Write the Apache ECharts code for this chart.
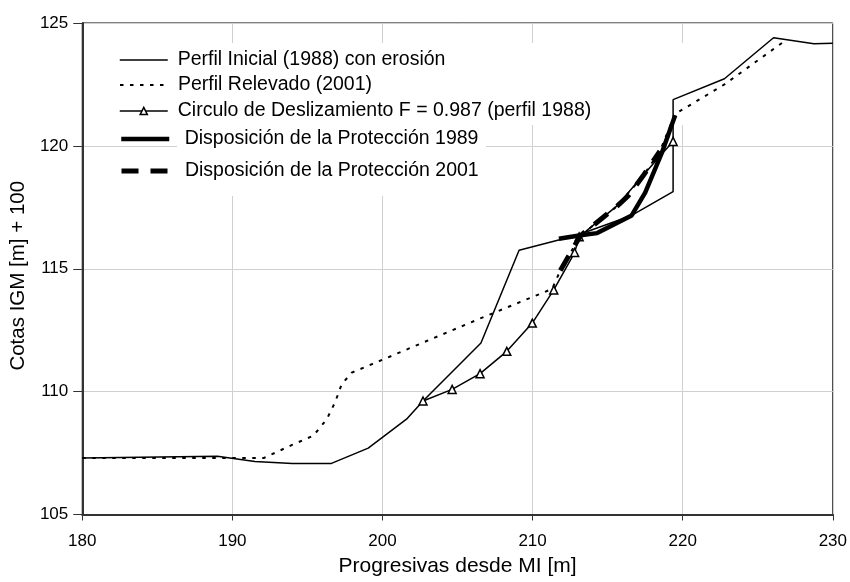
<!DOCTYPE html>
<html>
<head>
<meta charset="utf-8">
<script src="https://cdn.jsdelivr.net/npm/echarts@6/dist/echarts.min.js"></script>
<style>
html,body{margin:0;padding:0;background:#fff;}
#chart{width:850px;height:582px;}
</style>
</head>
<body>
<div id="chart"></div>
<script>
// ---- data ----
const xTicks = [180, 190, 200, 210, 220, 230];
const yTicks = [105, 110, 115, 120, 125];

const seriesNames = [
  'Perfil Inicial (1988) con erosión',
  'Perfil Relevado (2001)',
  'Circulo de Deslizamiento F = 0.987 (perfil 1988)',
  ' Disposición de la Protección 1989',
  ' Disposición de la Protección 2001'
];

const perfil1988X = [180, 189.0, 191.5, 194.0, 196.6, 199.05, 201.6, 202.7, 206.56, 209.1, 212.96, 216.6, 219.36, 219.36, 222.78, 226.05, 228.74, 230];
const perfil1988Y = [107.3, 107.37, 107.16, 107.08, 107.08, 107.7, 108.88, 109.62, 111.98, 115.75, 116.36, 117.17, 118.14, 121.88, 122.73, 124.4, 124.16, 124.18];

const perfil2001X = [180, 192.1, 193.97, 195.4, 196.29, 196.84, 197.28, 197.95, 206.56, 211.3, 211.85, 213.18, 215.63, 217.35, 218.48, 219.5, 222.78, 226.64];
const perfil2001Y = [107.3, 107.3, 107.83, 108.21, 108.88, 109.56, 110.3, 110.77, 112.99, 114.18, 114.93, 116.34, 117.55, 118.77, 119.78, 121.3, 122.5, 124.2];

const circuloX = [202.7, 204.64, 206.5, 208.28, 209.98, 211.41, 212.8, 213.1, 215.6, 217.3, 218.5, 219.36];
const circuloY = [109.62, 110.09, 110.73, 111.64, 112.79, 114.14, 115.66, 116.3, 117.55, 118.75, 119.6, 120.18];
const circuloMarker = [1, 1, 1, 1, 1, 1, 1, 1, 0, 0, 0, 1];

const prot1989X = [211.75, 213.2, 214.3, 216.6, 217.5, 218.6, 219.5];
const prot1989Y = [116.22, 116.36, 116.45, 117.17, 118.1, 119.7, 121.25];

const prot2001X = [211.85, 213.18, 215.63, 216.36, 217.35, 218.48];
const prot2001Y = [114.93, 116.34, 117.55, 117.96, 118.77, 119.78];

const legendCenters = [60, 85, 111, 139, 171];

// ---- helpers ----
const FONT = "'Liberation Sans', Arial, sans-serif";
const zip = (xs, ys) => xs.map((x, i) => [x, ys[i]]);

const lineStyles = [
  {color: '#000', width: 1.5, type: 'solid'},
  {color: '#000', width: 2, type: [3.5, 6.5]},
  {color: '#000', width: 1.5, type: 'solid'},
  {color: '#000', width: 4.5, type: 'solid'},
  {color: '#000', width: 5, type: [17, 12]}
];
const hasMarker = [false, false, true, false, false];

const chart = echarts.init(document.getElementById('chart'), null, {renderer: 'canvas'});

const option = {
  animation: false,
  backgroundColor: '#fff',
  textStyle: {fontFamily: FONT, color: '#000'},
  grid: {left: 79, right: 16, top: 23, bottom: 64, show: true, borderColor: '#000', borderWidth: 1, backgroundColor: 'transparent'},
  xAxis: {
    type: 'value', min: xTicks[0], max: xTicks[xTicks.length - 1], interval: 10,
    name: 'Progresivas desde MI [m]', nameLocation: 'middle', nameGap: 52,
    nameTextStyle: {fontSize: 21, fontFamily: FONT, color: '#000', verticalAlign: 'middle'},
    axisLine: {show: true, lineStyle: {color: '#333', width: 2}},
    axisTick: {show: true, length: 6, lineStyle: {color: '#333', width: 1}},
    axisLabel: {fontSize: 17, fontFamily: FONT, color: '#000', margin: 18},
    splitLine: {show: true, lineStyle: {color: '#d0d0d0', width: 1}}
  },
  yAxis: {
    type: 'value', min: yTicks[0], max: yTicks[yTicks.length - 1], interval: 5,
    name: 'Cotas IGM [m] + 100', nameLocation: 'middle', nameGap: 61,
    nameTextStyle: {fontSize: 20.5, fontFamily: FONT, color: '#000', verticalAlign: 'middle', padding: [0, 14, 0, 0]},
    axisLine: {show: true, lineStyle: {color: '#333', width: 2}},
    axisTick: {show: true, length: 9, lineStyle: {color: '#333', width: 1}},
    axisLabel: {fontSize: 17, fontFamily: FONT, color: '#000', margin: 14},
    splitLine: {show: true, lineStyle: {color: '#d0d0d0', width: 1}}
  },
  graphic: [
    {type: 'rect', z: 1, silent: true, shape: {x: 100, y: 43, width: 600, height: 82}, style: {fill: '#fff'}},
    {type: 'rect', z: 1, silent: true, shape: {x: 177, y: 125, width: 309, height: 71}, style: {fill: '#fff'}}
  ],
  legend: seriesNames.map((n, i) => ({
    data: [n], left: 119, top: legendCenters[i] - 10, orient: 'horizontal',
    itemWidth: 48, itemHeight: 9, padding: 0, selectedMode: false,
    lineStyle: lineStyles[i],
    itemStyle: hasMarker[i] ? {color: '#fff', borderColor: '#000', borderWidth: 1.5} : {opacity: 0},
    textStyle: {fontSize: 19.5, lineHeight: 20, fontFamily: FONT, color: '#000', padding: [0, 0, 0, 5]}
  })),
  series: [
    {
      name: seriesNames[0], type: 'line', z: 3, symbol: 'none',
      data: zip(perfil1988X, perfil1988Y),
      lineStyle: lineStyles[0], itemStyle: {color: '#000'}
    },
    {
      name: seriesNames[1], type: 'line', z: 3, symbol: 'none',
      data: zip(perfil2001X, perfil2001Y),
      lineStyle: lineStyles[1], itemStyle: {color: '#000'}
    },
    {
      name: seriesNames[2], type: 'line', z: 4, symbol: 'triangle', symbolSize: 8,
      data: circuloX.map((x, i) => circuloMarker[i] ? [x, circuloY[i]] : {value: [x, circuloY[i]], symbol: 'none'}),
      lineStyle: lineStyles[2],
      itemStyle: {color: '#fff', borderColor: '#000', borderWidth: 1.5}
    },
    {
      name: seriesNames[3], type: 'line', z: 5, symbol: 'none',
      data: zip(prot1989X, prot1989Y),
      lineStyle: lineStyles[3], itemStyle: {color: '#000'}
    },
    {
      name: seriesNames[4], type: 'line', z: 5, symbol: 'none',
      data: zip(prot2001X, prot2001Y),
      lineStyle: lineStyles[4], itemStyle: {color: '#000'}
    }
  ]
};

chart.setOption(option);
</script>
</body>
</html>
